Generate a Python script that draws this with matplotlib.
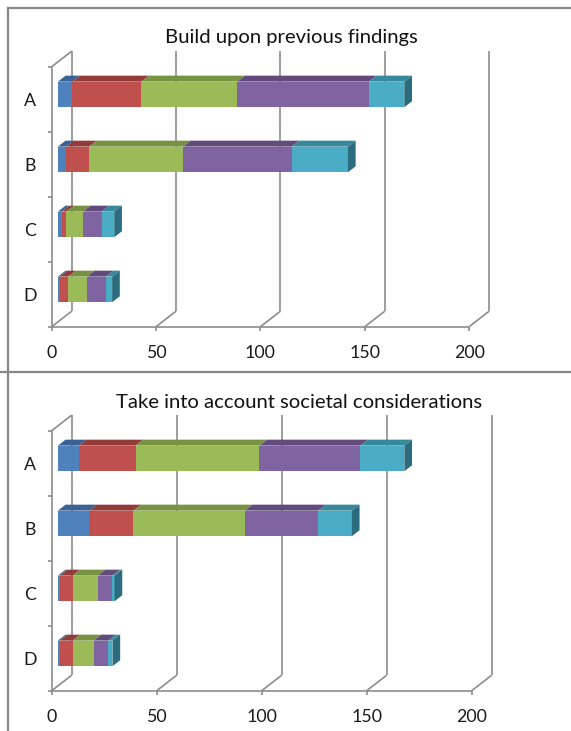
import matplotlib.pyplot as plt
from matplotlib.patches import Polygon
from matplotlib.lines import Line2D

# === DATA ===
categories = ['A', 'B', 'C', 'D']
series_names = ['S1', 'S2', 'S3', 'S4', 'S5']
x_ticks = [0, 50, 100, 150, 200]

titles = ['Build upon previous findings', 'Take into account societal considerations']

# one list per series, values for A, B, C, D
build_s1 = [7, 4, 2, 1]
build_s2 = [33, 11, 2, 4]
build_s3 = [46, 45, 8, 9]
build_s4 = [63, 52, 9, 9]
build_s5 = [17, 27, 6, 3]

societal_s1 = [10, 15, 1, 1]
societal_s2 = [27, 21, 6, 6]
societal_s3 = [59, 53, 12, 10]
societal_s4 = [48, 35, 7, 7]
societal_s5 = [21, 16, 1, 2]

# === STYLE ===
FRONT = ['#4F81BD', '#C0504D', '#9BBB59', '#8064A2', '#4BACC6']
TOP = ['#3B6294', '#923B39', '#779241', '#614B7D', '#36889D']
SIDE = ['#2E4D75', '#73302E', '#5C7232', '#4B3A61', '#2B6D7E']
GRID = '#8C8C8C'
FONT = ['Lato', 'DejaVu Sans']

W, H = 571, 731
fig = plt.figure(figsize=(W / 100, H / 100), dpi=100)

# panel layout in pixels: panel top/bottom, x of 0, px per unit, floor y, title position
panels = [
    dict(top=0, bottom=372, x0=51.7, sx=2.087, floor=326.7, tx=291, ty=37),
    dict(top=372, bottom=731, x0=51.7, sx=2.10, floor=690.7, tx=299, ty=402),
]
ROW = 65.0          # px per category slot
WALL_DX, WALL_DY = 20.0, 15.5   # px depth of the plot box
BAR_DEPTH = 0.385   # fraction of wall depth
BAR_FRONT = (1 - BAR_DEPTH) / 2
BAR_H = 0.394       # bar height in category units


def draw_panel(p, title, series):
    ax = fig.add_axes([0, 1 - p['bottom'] / H, 1, (p['bottom'] - p['top']) / H])
    ax.set_xlim(-p['x0'] / p['sx'], (W - p['x0']) / p['sx'])
    ax.set_ylim((p['floor'] - p['bottom']) / ROW, (p['floor'] - p['top']) / ROW)
    ax.axis('off')

    n = len(categories)
    dX = WALL_DX / p['sx']
    dY = WALL_DY / ROW
    kw = dict(color=GRID, lw=1.2, solid_capstyle='butt', zorder=1)

    # side wall and back wall gridlines
    ax.plot([0, 0], [0, n], **kw)
    ax.plot([dX, dX], [dY, n + dY], **kw)
    ax.plot([0, dX], [n, n + dY], **kw)
    ax.plot([0, dX], [0, dY], **kw)
    for t in x_ticks[1:]:
        ax.plot([t, t + dX], [0, dY], **kw)
        ax.plot([t + dX, t + dX], [dY, n + dY], **kw)

    # front axis, ticks and labels
    ax.plot([x_ticks[0], x_ticks[-1]], [0, 0], **kw)
    for t in x_ticks:
        ax.plot([t, t], [0, -4 / ROW], **kw)
        ax.text(t, -26 / ROW, str(t), ha='center', va='center', fontsize=12.8,
                family=FONT, color='#1a1a1a')
    for k in range(n + 1):
        ax.plot([-4 / p['sx'], 0], [k, k], **kw)
    for i, cat in enumerate(categories):
        ax.text(-22 / p['sx'], n - i - 0.53, cat, ha='center', va='center',
                fontsize=12.8, family=FONT, color='#1a1a1a')

    # stacked 3D bars
    fx, fy = BAR_FRONT * dX, BAR_FRONT * dY
    bx, by = BAR_DEPTH * dX, BAR_DEPTH * dY
    for i in range(n):
        yb = n - i - 0.5 - BAR_H / 2 + fy
        yt = yb + BAR_H
        left = fx
        vals = [s[i] for s in series]
        for j, v in enumerate(vals):
            right = left + v
            ax.add_patch(Polygon([(left, yb), (right, yb), (right, yt), (left, yt)],
                                 closed=True, fc=FRONT[j], ec='none', zorder=3))
            ax.add_patch(Polygon([(left, yt), (right, yt), (right + bx, yt + by),
                                  (left + bx, yt + by)],
                                 closed=True, fc=TOP[j], ec='none', zorder=3))
            if j == len(vals) - 1:
                ax.add_patch(Polygon([(right, yb), (right, yt), (right + bx, yt + by),
                                      (right + bx, yb + by)],
                                     closed=True, fc=SIDE[j], ec='none', zorder=3))
            left = right

    fig.text(p['tx'] / W, 1 - p['ty'] / H, title, ha='center', va='center',
             fontsize=14.6, family=FONT, color='#111111')


draw_panel(panels[0], titles[0], [build_s1, build_s2, build_s3, build_s4, build_s5])
draw_panel(panels[1], titles[1], [societal_s1, societal_s2, societal_s3, societal_s4, societal_s5])

# chart frames
frame = dict(color='#888888', lw=1.6, transform=fig.transFigure)
fig.add_artist(Line2D([8 / W, 8 / W], [0, 1 - 8 / H], **frame))
fig.add_artist(Line2D([8 / W, 1], [1 - 8 / H, 1 - 8 / H], **frame))
fig.add_artist(Line2D([0, 1], [1 - 372 / H, 1 - 372 / H], **frame))

fig.savefig('out.png', dpi=100, facecolor='white')
